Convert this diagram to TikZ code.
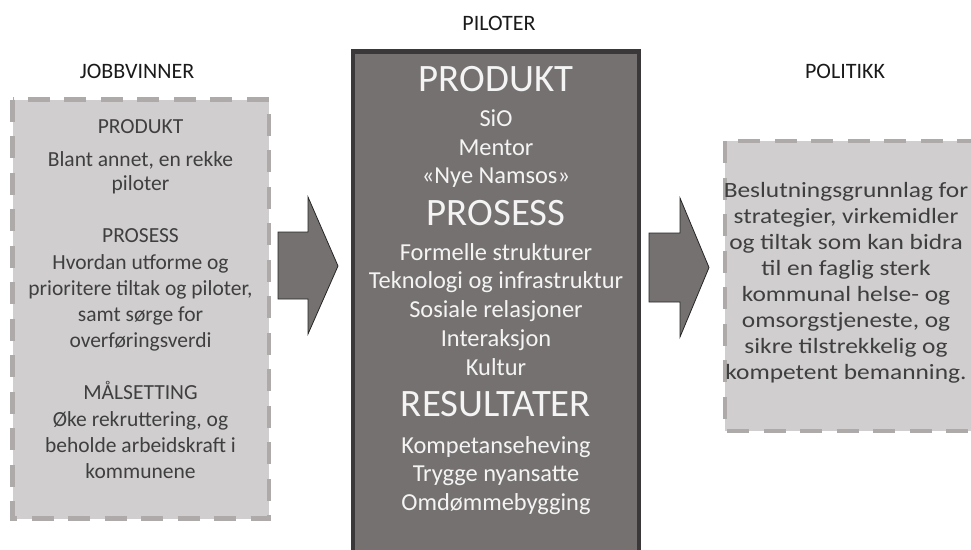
\documentclass[tikz,border=0pt]{standalone}
\usepackage{fontspec}
\setmainfont{Carlito}
\definecolor{lightfill}{HTML}{D0CECE}
\definecolor{lightedge}{HTML}{AEAAAA}
\definecolor{darkfill}{HTML}{767171}
\definecolor{darkedge}{HTML}{3A3838}
\definecolor{greytext}{HTML}{3F3F3F}
\definecolor{headtext}{HTML}{1A1A1A}
\definecolor{whitetext}{HTML}{F4F4F4}
\newcommand{\widetext}[1]{\scalebox{1.165}[1]{#1}}
\tikzset{
  lightbox/.style={draw=lightedge, fill=lightfill, line width=4.5pt, dash pattern=on 22pt off 14.5pt, inner sep=0pt},
  darkbox/.style={draw=darkedge, fill=darkfill, line width=4.5pt, inner sep=0pt},
  blockarrow/.style={draw=black!85, fill=darkfill, line width=0.8pt, line join=miter},
  header/.style={anchor=base, inner sep=0pt, text=headtext, font=\fontsize{22}{26}\selectfont},
  greyline/.style={anchor=base, inner sep=0pt, text=greytext, font=\fontsize{21.5}{25}\selectfont},
  rightline/.style={anchor=base, inner sep=0pt, text=greytext, font=\fontsize{21.8}{25}\selectfont},
  bigline/.style={anchor=base, inner sep=0pt, text=whitetext, font=\fontsize{38.8}{46}\selectfont},
  whiteline/.style={anchor=base, inner sep=0pt, text=whitetext, font=\fontsize{24.4}{29}\selectfont},
}
\begin{document}
\begin{tikzpicture}[x=1pt, y=-1pt]
\useasboundingbox (0,0) rectangle (971,549);
% boxes
\draw[lightbox] (12.5,99.5) rectangle (269,518.5);
\draw[darkbox] (353,51.5) rectangle (639,580);
\draw[lightbox] (725,141) rectangle (1000,431);
% block arrows
\draw[blockarrow] (278,232) -- (308,232) -- (308,197) -- (338,266) -- (308,334) -- (308,299) -- (278,299) -- cycle;
\draw[blockarrow] (649,233) -- (680,233) -- (680,198) -- (709,267.5) -- (680,337) -- (680,302) -- (649,302) -- cycle;
% headers
\node[header] (h1) at (137,78) {JOBBVINNER};
\node[header] (h2) at (499,30) {PILOTER};
\node[header] (h3) at (845,78) {POLITIKK};
% left box text
\node[greyline] (l1) at (140.5,133) {PRODUKT};
\node[greyline] (l2) at (140.5,166) {Blant annet, en rekke};
\node[greyline] (l3) at (140.5,190) {piloter};
\node[greyline] (l4) at (140.5,242) {PROSESS};
\node[greyline] (l5) at (140.5,269) {Hvordan utforme og};
\node[greyline] (l6) at (140.5,295) {prioritere tiltak og piloter,};
\node[greyline] (l7) at (140.5,321) {samt sørge for};
\node[greyline] (l8) at (140.5,347) {overføringsverdi};
\node[greyline] (l9) at (140.5,399) {MÅLSETTING};
\node[greyline] (l10) at (140.5,426) {Øke rekruttering, og};
\node[greyline] (l11) at (140.5,452) {beholde arbeidskraft i};
\node[greyline] (l12) at (140.5,478) {kommunene};
% centre box text
\node[bigline] (c1) at (496,91.5) {PRODUKT};
\node[whiteline] (c2) at (496,126.5) {SiO};
\node[whiteline] (c3) at (496,155) {Mentor};
\node[whiteline] (c4) at (496,183.5) {«Nye Namsos»};
\node[bigline] (c5) at (496,225) {PROSESS};
\node[whiteline] (c6) at (496,260) {Formelle strukturer};
\node[whiteline] (c7) at (496,288.5) {Teknologi og infrastruktur};
\node[whiteline] (c8) at (496,317.5) {Sosiale relasjoner};
\node[whiteline] (c9) at (496,346.5) {Interaksjon};
\node[whiteline] (c10) at (496,375) {Kultur};
\node[bigline] (c11) at (496,416.5) {RESULTATER};
\node[whiteline] (c12) at (496,453) {Kompetanseheving};
\node[whiteline] (c13) at (496,481.5) {Trygge nyansatte};
\node[whiteline] (c14) at (496,510) {Omdømmebygging};
% right box text
\node[rightline] (r1) at (846,197.5) {\widetext{Beslutningsgrunnlag for}};
\node[rightline] (r2) at (846,223.5) {\widetext{strategier, virkemidler}};
\node[rightline] (r3) at (846,249.5) {\widetext{og tiltak som kan bidra}};
\node[rightline] (r4) at (846,275.5) {\widetext{til en faglig sterk}};
\node[rightline] (r5) at (846,301.5) {\widetext{kommunal helse- og}};
\node[rightline] (r6) at (846,327.5) {\widetext{omsorgstjeneste, og}};
\node[rightline] (r7) at (846,353.5) {\widetext{sikre tilstrekkelig og}};
\node[rightline] (r8) at (846,379.5) {\widetext{kompetent bemanning.}};
\end{tikzpicture}
\end{document}
